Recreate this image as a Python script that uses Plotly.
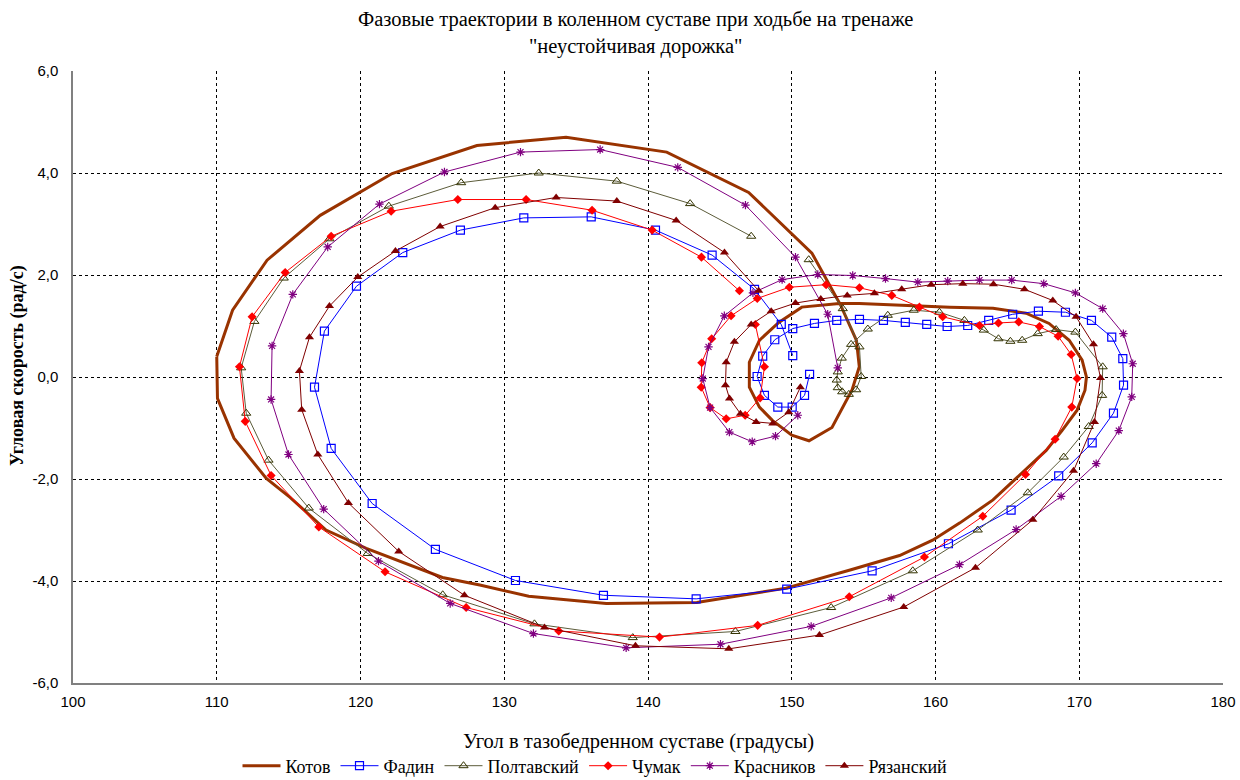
import plotly.graph_objects as go

# ---- data (hip angle, deg ; knee angular velocity, rad/s) ----
kotov_x = [110.0, 111.1, 113.5, 117.2, 122.2, 128.1, 134.3, 141.3, 147.0, 151.4, 153.4, 154.5, 154.7, 154.2,
           152.8, 151.2, 150.0, 148.65, 147.75, 147.05, 147.05, 147.75, 149.1, 150.7, 153.3, 154.7, 161.0,
           164.0, 166.3, 167.9, 169.3, 170.2, 170.5, 170.4, 169.85, 168.8, 167.7, 166.05, 164.0, 161.7,
           159.8, 157.5, 156.1, 154.0, 149.6, 143.4, 137.1, 131.7, 128.3, 125.7, 120.4, 117.6, 115.1,
           113.45, 111.2, 110.05, 110.0]
kotov_y = [0.40, 1.31, 2.29, 3.17, 3.99, 4.54, 4.70, 4.41, 3.62, 2.43, 1.41, 0.72, 0.20, -0.25,
           -0.99, -1.25, -1.14, -0.85, -0.59, -0.20, 0.29, 0.72, 1.07, 1.37, 1.44, 1.44, 1.37,
           1.35, 1.25, 1.05, 0.72, 0.33, 0.00, -0.26, -0.65, -1.05, -1.44, -1.88, -2.41, -2.86,
           -3.20, -3.50, -3.62, -3.79, -4.14, -4.42, -4.44, -4.30, -4.08, -3.93, -3.36, -3.00, -2.36,
           -1.99, -1.20, -0.42, 0.40]

fadin_x = [151.24, 150.89, 150.03, 149.03, 148.10, 147.59, 147.98, 148.82, 150.07, 151.58, 153.13, 154.71,
           156.38, 157.90, 159.39, 160.81, 162.24, 163.70, 165.37, 167.16, 169.04, 170.85, 172.26, 173.03,
           173.08, 172.38, 170.90, 168.57, 165.26, 160.90, 155.59, 149.65, 143.35, 136.90, 130.78, 125.21,
           120.81, 117.96, 116.80, 117.49, 119.72, 122.94, 126.95, 131.36, 136.05, 140.52, 144.46, 147.41,
           149.27, 150.07]
fadin_y = [0.05, -0.36, -0.59, -0.59, -0.36, 0.01, 0.41, 0.73, 0.95, 1.05, 1.11, 1.13,
           1.11, 1.07, 1.03, 0.99, 1.01, 1.11, 1.23, 1.29, 1.27, 1.11, 0.78, 0.36,
           -0.16, -0.71, -1.29, -1.94, -2.61, -3.27, -3.80, -4.16, -4.35, -4.28, -3.99, -3.38,
           -2.48, -1.40, -0.20, 0.90, 1.78, 2.44, 2.88, 3.12, 3.14, 2.88, 2.39, 1.72,
           1.03, 0.42]

poltav_x = [151.18, 153.55, 154.71, 154.83, 154.48, 153.97, 153.51, 153.20, 153.13, 153.20, 153.48, 154.13,
            155.29, 156.68, 158.49, 160.27, 162.01, 163.36, 164.38, 165.21, 166.03, 167.11, 168.39, 169.73,
            171.63, 171.59, 170.66, 168.92, 166.42, 162.94, 158.42, 152.74, 146.08, 138.94, 132.10, 125.72,
            120.50, 116.40, 113.60, 112.05, 111.70, 112.62, 114.66, 117.84, 121.97, 127.00, 132.40, 137.83,
            142.93, 147.18]
poltav_y = [2.30, 1.34, 0.59, 0.01, -0.25, -0.34, -0.29, -0.21, -0.06, 0.10, 0.37, 0.64,
            0.94, 1.21, 1.31, 1.27, 1.11, 0.92, 0.75, 0.70, 0.72, 0.85, 0.93, 0.88,
            0.20, -0.36, -0.97, -1.57, -2.27, -3.00, -3.80, -4.52, -4.99, -5.11, -4.84, -4.27,
            -3.46, -2.57, -1.63, -0.71, 0.18, 1.09, 1.94, 2.71, 3.35, 3.81, 4.00, 3.84,
            3.40, 2.76]

chumak_x = [147.47, 148.10, 147.80, 146.76, 145.44, 144.32, 143.70, 143.74, 144.43, 145.78, 147.60, 149.83,
            152.39, 154.71, 156.96, 158.88, 160.50, 163.06, 164.38, 165.79, 167.23, 168.53, 169.44, 169.85,
            169.48, 168.32, 166.26, 163.29, 159.23, 154.00, 147.63, 140.80, 133.79, 127.35, 121.71, 117.10,
            113.78, 111.98, 111.58, 112.46, 114.76, 117.96, 122.13, 126.77, 131.52, 136.11, 140.29, 143.72,
            146.36]
chumak_y = [1.03, 0.20, -0.41, -0.75, -0.82, -0.60, -0.20, 0.28, 0.75, 1.20, 1.54, 1.76,
            1.81, 1.75, 1.60, 1.37, 1.18, 1.01, 1.06, 1.08, 0.99, 0.80, 0.44, -0.03,
            -0.59, -1.22, -1.91, -2.73, -3.53, -4.31, -4.87, -5.10, -4.98, -4.52, -3.82, -2.94,
            -1.93, -0.87, 0.20, 1.18, 2.05, 2.76, 3.25, 3.48, 3.48, 3.27, 2.88, 2.35,
            1.69]

krasn_x = [150.42, 148.87, 147.25, 145.66, 144.32, 143.81, 144.21, 145.31, 147.30, 149.33, 151.81, 154.24,
           156.52, 158.77, 160.85, 163.06, 165.30, 167.53, 169.73, 171.63, 173.07, 173.72, 173.65, 172.75,
           171.18, 168.74, 165.61, 161.67, 156.92, 151.35, 145.04, 138.48, 132.03, 126.24, 121.25, 117.44,
           114.99, 113.78, 113.85, 115.29, 117.72, 121.32, 125.84, 131.13, 136.67, 142.07, 146.78, 150.26,
           152.50, 153.20]
krasn_y = [-0.75, -1.16, -1.27, -1.08, -0.60, -0.03, 0.59, 1.20, 1.65, 1.91, 2.01, 1.99,
           1.93, 1.86, 1.88, 1.90, 1.90, 1.83, 1.65, 1.34, 0.85, 0.26, -0.39, -1.05,
           -1.70, -2.34, -2.99, -3.68, -4.33, -4.89, -5.24, -5.31, -5.03, -4.44, -3.61, -2.59,
           -1.52, -0.44, 0.61, 1.62, 2.55, 3.39, 4.02, 4.41, 4.46, 4.11, 3.37, 2.35,
           1.23, 0.18]

ryaz_x = [150.60, 149.79, 148.68, 147.52, 146.43, 145.67, 145.39, 145.44, 146.01, 147.18, 148.57, 150.26,
          152.02, 153.86, 155.75, 157.65, 159.70, 161.90, 164.03, 166.19, 168.16, 169.78, 170.99, 171.48,
          171.06, 169.60, 166.77, 162.78, 157.79, 151.93, 145.62, 139.13, 132.80, 127.23, 122.66, 119.16,
          117.03, 115.91, 115.75, 116.45, 117.84, 119.81, 122.43, 125.54, 129.37, 133.61, 137.83, 141.96,
          145.32, 147.70]
ryaz_y = [-0.20, -0.69, -0.91, -0.88, -0.72, -0.42, -0.16, 0.29, 0.69, 1.03, 1.29, 1.45,
          1.53, 1.60, 1.64, 1.72, 1.81, 1.83, 1.82, 1.72, 1.50, 1.18, 0.64, -0.02,
          -0.88, -1.84, -2.80, -3.74, -4.51, -5.06, -5.33, -5.27, -4.91, -4.28, -3.42, -2.47,
          -1.52, -0.64, 0.12, 0.78, 1.39, 1.96, 2.47, 2.95, 3.32, 3.52, 3.45, 3.07,
          2.44, 1.69]

x_ticks = [100, 110, 120, 130, 140, 150, 160, 170, 180]
y_ticks = [-6, -4, -2, 0, 2, 4, 6]
y_ticktext = ["-6,0", "-4,0", "-2,0", "0,0", "2,0", "4,0", "6,0"]

title_line1 = "Фазовые траектории в коленном суставе при ходьбе на тренаже"
title_line2 = "\"неустойчивая дорожка\""
x_title = "Угол в тазобедренном суставе (градусы)"
y_title = "Угловая скорость (рад/с)"

SERIF = "Liberation Serif, Times New Roman, serif"
SANS = "Liberation Sans, Arial, sans-serif"

fig = go.Figure()

fig.add_trace(go.Scatter(x=kotov_x, y=kotov_y, name="Котов", mode="lines",
                         line=dict(color="#993300", width=3)))
fig.add_trace(go.Scatter(x=fadin_x, y=fadin_y, name="Фадин", mode="lines+markers",
                         line=dict(color="#0000FF", width=1),
                         marker=dict(symbol="square-open", size=8, color="#0000FF", line=dict(width=1.2))))
fig.add_trace(go.Scatter(x=poltav_x, y=poltav_y, name="Полтавский", mode="lines+markers",
                         line=dict(color="#5C5C3A", width=1),
                         marker=dict(symbol="triangle-up-open", size=8, color="#333300", line=dict(width=1))))
fig.add_trace(go.Scatter(x=chumak_x, y=chumak_y, name="Чумак", mode="lines+markers",
                         line=dict(color="#FF0000", width=1),
                         marker=dict(symbol="diamond", size=7, color="#FF0000")))
fig.add_trace(go.Scatter(x=krasn_x, y=krasn_y, name="Красников", mode="lines+markers",
                         line=dict(color="#800080", width=1),
                         marker=dict(symbol="asterisk-open", size=7, color="#800080", line=dict(width=1.2, color="#800080"))))
fig.add_trace(go.Scatter(x=ryaz_x, y=ryaz_y, name="Рязанский", mode="lines+markers",
                         line=dict(color="#800000", width=1),
                         marker=dict(symbol="triangle-up", size=8, color="#800000")))

grid = dict(showgrid=True, gridcolor="#000000", gridwidth=1, griddash="3px,3px", zeroline=False)

fig.update_xaxes(range=[100, 180], tickvals=x_ticks, ticktext=[str(v) for v in x_ticks],
                 showline=True, linecolor="#808080", linewidth=1.5, ticks="", automargin=False,
                 ticklabelstandoff=4,
                 tickfont=dict(family=SANS, size=15, color="#000000"), **grid)
fig.update_yaxes(range=[-6, 6], tickvals=y_ticks, ticktext=y_ticktext,
                 showline=True, linecolor="#808080", linewidth=1.5, ticks="", automargin=False,
                 ticklabelstandoff=10,
                 tickfont=dict(family=SANS, size=15, color="#000000"), **grid)

fig.update_layout(
    width=1240, height=780,
    margin=dict(l=73, r=17, t=71, b=97, autoexpand=False),
    paper_bgcolor="white", plot_bgcolor="white",
    showlegend=True,
    legend=dict(orientation="h", xref="container", yref="container",
                x=595 / 1240, xanchor="center", y=(780 - 766) / 780, yanchor="middle",
                font=dict(family=SERIF, size=18, color="#000000"), itemwidth=38,
                bgcolor="rgba(0,0,0,0)"),
    annotations=[
        dict(text=title_line1, xref="paper", yref="paper", x=(635 - 73) / 1150, y=1.0 + (71 - 19) / 612,
             xanchor="center", yanchor="middle", showarrow=False,
             font=dict(family=SERIF, size=20.5, color="#000000")),
        dict(text=title_line2, xref="paper", yref="paper", x=(635 - 73) / 1150, y=1.0 + (71 - 47) / 612,
             xanchor="center", yanchor="middle", showarrow=False,
             font=dict(family=SERIF, size=20.5, color="#000000")),
        dict(text=x_title, xref="paper", yref="paper", x=(638 - 73) / 1150, y=-(741 - 683) / 612,
             xanchor="center", yanchor="middle", showarrow=False,
             font=dict(family=SERIF, size=20.5, color="#000000")),
        dict(text="<b>" + y_title + "</b>", xref="paper", yref="paper", x=-(73 - 18) / 1150, y=(683 - 366) / 612,
             xanchor="center", yanchor="middle", showarrow=False, textangle=-90,
             font=dict(family=SERIF, size=18, color="#000000")),
    ],
)

fig.write_html("out.html")
